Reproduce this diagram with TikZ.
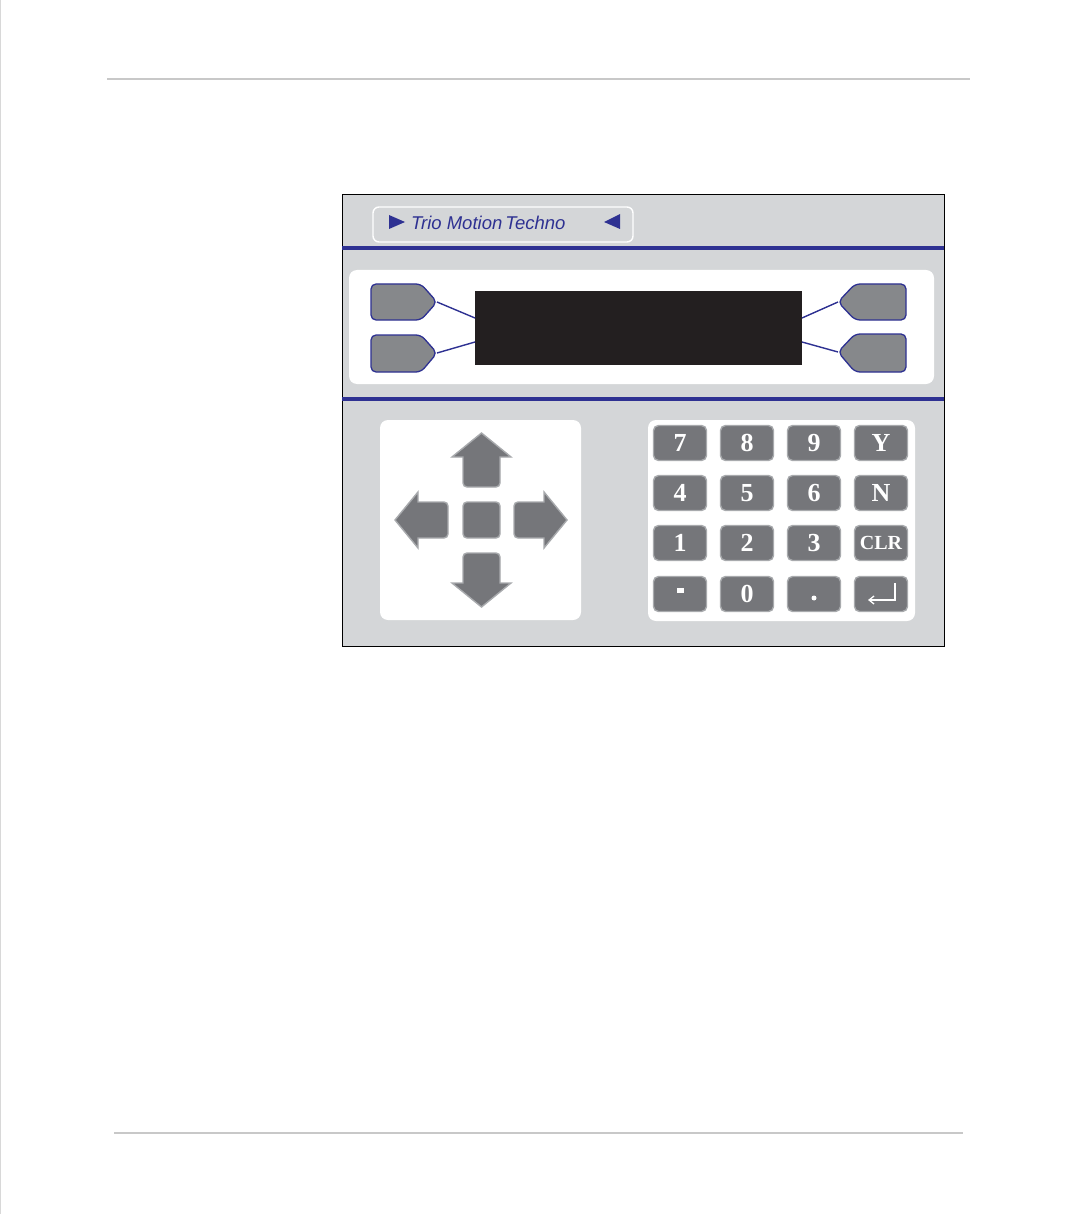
\documentclass[tikz,border=0pt]{standalone}
\usepackage{fontspec}
\setmainfont{Liberation Serif}
\newfontfamily\brandfont{Liberation Sans}
\usetikzlibrary{arrows.meta}
\definecolor{panelgray}{HTML}{D4D6D8}
\definecolor{trioblue}{HTML}{2E3192}
\definecolor{keygray}{HTML}{75767A}
\definecolor{keyedge}{HTML}{A8AAAD}
\definecolor{softgray}{HTML}{86888B}
\definecolor{screenblack}{HTML}{231F20}
\definecolor{ruleg}{HTML}{C8C8C8}
\tikzset{
  px/.style={x=1pt,y=-1pt},
  rulebar/.style={draw=ruleg,line width=2.2pt},
  blueline/.style={draw=trioblue,line width=3.6pt},
  softkey/.style={fill=softgray,draw=trioblue,line width=1.3pt,rounded corners=5pt},
  softlink/.style={draw=trioblue,line width=1.4pt},
  whitepanel/.style={fill=white,rounded corners=8pt},
  padkey/.style={fill=keygray,draw=keyedge,line width=1.4pt,rounded corners=4pt},
  numkey/.style={rectangle,fill=keygray,draw=keyedge,line width=1.4pt,rounded corners=5pt,
    minimum width=53pt,minimum height=35pt,inner sep=0pt,text=white,
    font=\fontsize{26}{26}\selectfont\bfseries},
}
\begin{document}
\begin{tikzpicture}[px]
\useasboundingbox (0,0) rectangle (1076,1214);
\fill[white] (0,0) rectangle (1076,1214);
\draw[ruleg!70,line width=0.8pt] (0.5,0) -- (0.5,1214);
% page rules
\draw[rulebar] (107,79) -- (970,79);
\draw[rulebar] (114,1133) -- (963,1133);
% panel
\node[draw=black,line width=0.8pt,fill=panelgray,minimum width=602pt,minimum height=452pt,inner sep=0pt] (panel) at (643,420) {};
% brand box
\node[draw=white,line width=1.4pt,rounded corners=6pt,minimum width=260pt,minimum height=35pt,inner sep=0pt] (brand) at (503,224.5) {};
\fill[trioblue] (389,215) -- (405,222) -- (389,229) -- cycle;
\fill[trioblue] (620,214) -- (604,222) -- (620,229) -- cycle;
\node[anchor=base west,inner sep=0pt,text=trioblue,font=\brandfont\itshape\fontsize{18.5}{18.5}\selectfont] (brandtext) at (411,230) {Trio Motion\,Techno};
% blue lines
\draw[blueline] (342,248) -- (944,248);
\draw[blueline] (342,399) -- (944,399);
% display area
\fill[whitepanel] (349,270) rectangle (934,384);
\node[fill=screenblack,minimum width=327pt,minimum height=74pt,inner sep=0pt] (screen) at (638.5,328) {};
% soft keys
\path[softkey] (371,284) -- (421,284) -- (437,302) -- (421,320) -- (371,320) -- cycle;
\path[softkey] (371,335) -- (421,335) -- (437,353) -- (421,372) -- (371,372) -- cycle;
\path[softkey] (906,284) -- (855,284) -- (838,302) -- (855,320) -- (906,320) -- cycle;
\path[softkey] (906,334) -- (855,334) -- (838,352) -- (855,372) -- (906,372) -- cycle;
\coordinate (sk1) at (437,302);
\coordinate (sk2) at (437,353);
\coordinate (sk3) at (838,302);
\coordinate (sk4) at (838,352);
\coordinate (sc1) at (475,318);
\coordinate (sc2) at (475,342);
\coordinate (sc3) at (802,318);
\coordinate (sc4) at (802,342);
\draw[softlink] (sk1) -- (sc1);
\draw[softlink] (sk2) -- (sc2);
\draw[softlink] (sk3) -- (sc3);
\draw[softlink] (sk4) -- (sc4);
% arrow pad
\fill[whitepanel] (380,420) rectangle (581,620);
\path[padkey] (463,502) rectangle (500,538);
\path[padkey] (463,487) [sharp corners]-- (463,457) -- (452,457) -- (481.5,433) -- (511,457) -- (500,457) [rounded corners=4pt]-- (500,487) -- cycle;
\path[padkey] (463,553) [sharp corners]-- (463,583) -- (452,583) -- (481.5,607) -- (511,583) -- (500,583) [rounded corners=4pt]-- (500,553) -- cycle;
\path[padkey] (448,502) [sharp corners]-- (418,502) -- (418,492) -- (395,520) -- (418,548) -- (418,538) [rounded corners=4pt]-- (448,538) -- cycle;
\path[padkey] (514,502) [sharp corners]-- (544,502) -- (544,492) -- (567,520) -- (544,548) -- (544,538) [rounded corners=4pt]-- (514,538) -- cycle;
% keypad
\fill[whitepanel] (648,420) rectangle (915,621);
\node[numkey] (k7) at (680,443) {7};
\node[numkey] (k8) at (747,443) {8};
\node[numkey] (k9) at (814,443) {9};
\node[numkey] (kY) at (881,443) {Y};
\node[numkey] (k4) at (680,493) {4};
\node[numkey] (k5) at (747,493) {5};
\node[numkey] (k6) at (814,493) {6};
\node[numkey] (kN) at (881,493) {N};
\node[numkey] (k1) at (680,543) {1};
\node[numkey] (k2) at (747,543) {2};
\node[numkey] (k3) at (814,543) {3};
\node[numkey,font=\fontsize{20}{20}\selectfont\bfseries] (kCLR) at (881,543) {CLR};
\node[numkey] (kminus) at (680,594) {};
\node[numkey] (k0) at (747,594) {0};
\node[numkey] (kdot) at (814,594) {};
\node[numkey] (kenter) at (881,594) {};
\fill[white] (677,588) rectangle (684,593);
\fill[white] (814,598) circle (2.5pt);
\draw[white,line width=1.3pt,-{Straight Barb[length=5pt,width=8pt]}] (895,583) -- (895,600) -- (868,600);
\end{tikzpicture}
\end{document}
